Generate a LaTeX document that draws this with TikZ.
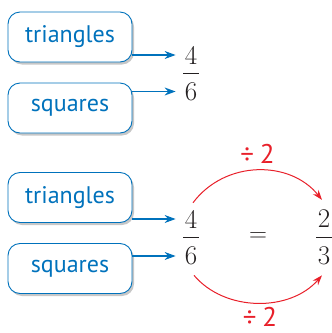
\documentclass[tikz,border=0pt]{standalone}
\usepackage{fontspec}
\setsansfont{PT Sans}
\usetikzlibrary{arrows.meta,shadows}
\definecolor{boxblue}{RGB}{0,114,188}
\definecolor{arcred}{RGB}{232,32,42}
\definecolor{numgray}{RGB}{35,31,32}
\tikzset{
  labelbox/.style={draw=boxblue, line width=0.9pt, fill=white, rounded corners=12pt,
    minimum width=124pt, minimum height=50pt, inner sep=0pt,
    font=\sffamily\fontsize{24}{24}\selectfont, text=boxblue,
    drop shadow={shadow xshift=2pt, shadow yshift=-2.5pt, opacity=0.22, fill=black}},
  numstyle/.style={inner sep=0pt, font=\fontsize{27}{27}\selectfont, text=numgray},
  fracbar/.style={draw=numgray, line width=0.8pt},
  bluearrow/.style={draw=boxblue, line width=1.1pt, -{Stealth[length=11pt,width=8pt]}},
  redarrow/.style={draw=arcred, line width=1pt, -{Stealth[length=10pt,width=7pt]}},
  redlabel/.style={inner sep=0pt, font=\sffamily\fontsize{27}{27}\selectfont, text=arcred}
}
\begin{document}
\begin{tikzpicture}[x=1pt,y=-1pt]
\useasboundingbox (0,0) rectangle (332,333);
% top group
\node[labelbox] (t1) at (70,37) {triangles};
\node[labelbox] (s1) at (70,108) {squares};
\node[numstyle] (n1) at (191,55) {4};
\node[numstyle] (d1) at (191,91.5) {6};
\path (n1) -- (d1) coordinate[midway] (b1);
\draw[fracbar] ([xshift=-8pt]b1) -- ([xshift=8pt]b1);
\draw[bluearrow] (t1.east |- n1.west) -- ([xshift=-9pt]n1.west);
\draw[bluearrow] (s1.east |- d1.west) -- ([xshift=-9pt]d1.west);
% bottom group
\node[labelbox] (t2) at (70,197.5) {triangles};
\node[labelbox] (s2) at (70,268.5) {squares};
\node[numstyle] (n2) at (191,219) {4};
\node[numstyle] (d2) at (191,256) {6};
\path (n2) -- (d2) coordinate[midway] (b2);
\draw[fracbar] ([xshift=-8pt]b2) -- ([xshift=8pt]b2);
\draw[bluearrow] (t2.east |- n2.west) -- ([xshift=-9pt]n2.west);
\draw[bluearrow] (s2.east |- d2.west) -- ([xshift=-9pt]d2.west);
\node[numstyle] (eq) at (258,237.5) {$=$};
\node[numstyle] (n3) at (324,219) {2};
\node[numstyle] (d3) at (324,256) {3};
\path (n3) -- (d3) coordinate[midway] (b3);
\draw[fracbar] ([xshift=-8pt]b3) -- ([xshift=8pt]b3);
% arcs
\draw[redarrow] ([shift={(2,-7)}]n2.north) .. controls (225,160) and (290,160) .. ([shift={(-2,-10)}]n3.north);
\draw[redarrow] ([shift={(3,10)}]d2.south) .. controls (225,312) and (290,312) .. ([shift={(-2,10)}]d3.south);
\node[redlabel] (lt) at (257.5,154) {÷\hspace{6pt}2};
\node[redlabel] (lb) at (260,317) {÷\hspace{6pt}2};
\end{tikzpicture}
\end{document}
